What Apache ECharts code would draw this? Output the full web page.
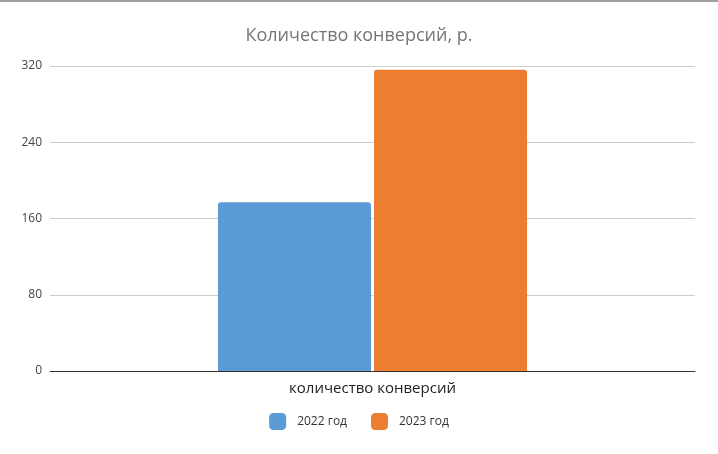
<!DOCTYPE html>
<html><head><meta charset="utf-8">
<script src="https://cdn.jsdelivr.net/npm/echarts@6/dist/echarts.min.js"></script>
<style>html,body{margin:0;padding:0;background:#fff}#c{width:718px;height:454px}</style>
</head><body><div id="c"></div>
<script>
const categories = ['количество конверсий'];
const seriesNames = ['2022 год', '2023 год'];
const values2022 = [177];
const values2023 = [316];
const yTicks = [0, 80, 160, 240, 320];

const chart = echarts.init(document.getElementById('c'));
chart.setOption({
  animation: false,
  backgroundColor: '#fff',
  title: {
    text: 'Количество конверсий, р.',
    left: 'center', top: 22,
    textStyle: {fontFamily: 'Open Sans', fontSize: 18, fontWeight: 'normal', color: '#757575'}
  },
  graphic: [{type: 'rect', shape: {x: 0, y: 0, width: 718, height: 2}, style: {fill: '#9e9e9e'}}],
  legend: {
    data: seriesNames, bottom: 19, left: 'center', itemWidth: 17, itemHeight: 17, itemGap: 24,
    icon: 'roundRect',
    textStyle: {fontFamily: 'Open Sans', fontSize: 12, color: '#333', padding: [0, 0, 0, 6]}
  },
  grid: {left: 50, right: 23, top: 66, bottom: 83},
  xAxis: {
    type: 'category', data: categories,
    axisLine: {lineStyle: {color: '#333', width: 1}},
    axisTick: {show: false},
    axisLabel: {fontFamily: 'Open Sans', fontSize: 15, color: '#222', margin: 10}
  },
  yAxis: {
    type: 'value', min: yTicks[0], max: yTicks[yTicks.length - 1], interval: 80,
    axisLine: {show: false}, axisTick: {show: false},
    splitLine: {lineStyle: {color: '#cccccc'}},
    axisLabel: {fontFamily: 'Open Sans', fontSize: 12, color: '#444', margin: 8}
  },
  series: [
    {name: seriesNames[0], type: 'bar', data: values2022, barWidth: 153, barGap: '2%',
     itemStyle: {color: '#5b9bd5', borderRadius: [3, 3, 0, 0]}},
    {name: seriesNames[1], type: 'bar', data: values2023, barWidth: 153, barGap: '2%',
     itemStyle: {color: '#ed7d31', borderRadius: [3, 3, 0, 0]}}
  ]
});
</script></body></html>
